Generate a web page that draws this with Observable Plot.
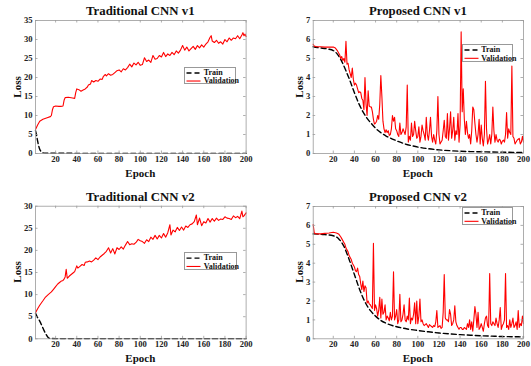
<!DOCTYPE html>
<html><head><meta charset="utf-8">
<script src="https://cdn.jsdelivr.net/npm/d3@7"></script>
<script src="https://cdn.jsdelivr.net/npm/@observablehq/plot@0.6"></script>
<style>
body{margin:0;background:#fff;}
#root{position:relative;width:531px;height:366px;overflow:hidden;font-family:"Liberation Serif","Times New Roman",serif;color:#111;}
.p{position:absolute;}
.p svg text{font-weight:bold;}
.title{position:absolute;font-weight:bold;font-size:12.8px;white-space:nowrap;line-height:1;transform:translate(-50%,0);}
.xl{position:absolute;font-weight:bold;font-size:11px;white-space:nowrap;line-height:1;transform:translate(-50%,-50%);}
.yl{position:absolute;font-weight:bold;font-size:11px;white-space:nowrap;line-height:1;transform:translate(-50%,-50%) rotate(-90deg);}
.legend{position:absolute;border:0.8px solid #999;background:#fff;box-sizing:border-box;}
.legend .t{position:absolute;font-weight:bold;font-size:8px;line-height:1;white-space:nowrap;transform:translate(0,-50%);}
.legend svg{position:absolute;left:0;top:0;overflow:visible;}
</style></head><body><div id="root"></div>
<script>
// ---------- data ----------
const epochTicks = [20,40,60,80,100,120,140,160,180,200];
const tradTicksV1 = [0,5,10,15,20,25,30,35];
const tradTicksV2 = [0,5,10,15,20,25,30];
const propTicks = [0,1,2,3,4,5,6,7];
const titles = ["Traditional CNN v1","Proposed CNN v1","Traditional CNN v2","Proposed CNN v2"];
const seriesNames = ["Train","Validation"];

const tradV1Train = [[1,6.0],[2,4.8],[3,3.3],[4,2.0],[5,1.1],[6,0.6],[7,0.3],[8,0.15],[10,0.07],[14,0.06],[30,0.05],[60,0.04],[100,0.04],[150,0.03],[200,0.03]];
const tradV1Val = [[1,6.3],[3,7.5],[5,8.5],[8,9.0],[12,9.4],[15,9.7],[16,10.0],[17,11.5],[18,12.3],[20,12.5],[23,12.4],[25,12.4],[27,12.5],[28,14.0],[29,14.7],[32,14.8],[36,14.6],[38,14.5],[39,16.0],[40,17.0],[42,16.8],[44,16.4],[46,16.7],[48,17.0],[50,17.5],[51,18.0],[53,18.3],[54,19.2],[56,18.8],[58,19.2],[60,19.0],[62,19.6],[64,19.5],[65,20.2],[67,20.8],[68,20.4],[70,21.0],[72,20.6],[74,20.8],[76,21.3],[78,21.8],[80,22.0],[82,21.5],[84,22.3],[86,22.0],[88,22.6],[90,23.5],[92,22.8],[94,23.8],[96,23.3],[98,24.0],[100,23.2],[102,23.4],[104,25.2],[106,24.2],[108,24.6],[110,24.0],[112,25.8],[114,24.8],[116,25.0],[118,25.8],[120,25.4],[122,26.6],[124,25.5],[126,26.2],[128,25.8],[130,26.6],[132,26.0],[134,27.0],[136,26.4],[138,27.2],[140,28.4],[142,27.2],[144,28.0],[146,27.0],[148,27.6],[150,28.2],[152,27.4],[154,28.4],[156,27.8],[158,28.6],[160,28.0],[162,28.8],[164,29.4],[166,30.6],[167,31.0],[168,29.6],[170,29.2],[172,29.8],[174,29.0],[176,29.4],[178,28.8],[180,30.0],[182,29.4],[184,30.4],[186,29.8],[188,30.4],[190,30.2],[192,31.0],[194,30.2],[196,31.2],[197,31.8],[198,31.0],[199,31.4],[200,30.8]];

const tradV2Train = [[1,5.8],[3,4.8],[5,4.0],[7,3.0],[9,1.9],[11,1.0],[13,0.3],[15,0.06],[20,0.05],[60,0.04],[100,0.04],[150,0.03],[200,0.03]];
const tradV2Val = [[1,5.9],[3,6.8],[5,7.6],[8,8.6],[10,9.3],[13,10.0],[16,10.6],[18,11.2],[20,11.8],[22,12.4],[24,12.8],[25,13.0],[27,13.2],[28,13.5],[29,14.0],[30,15.7],[31,13.7],[33,14.2],[35,14.6],[37,15.0],[38,15.2],[40,16.5],[41,16.0],[43,16.4],[45,16.8],[47,16.6],[48,17.3],[50,17.4],[52,17.6],[54,17.4],[56,17.8],[58,18.3],[60,17.9],[62,18.5],[64,18.9],[66,19.3],[68,19.8],[70,20.6],[72,19.4],[74,20.4],[76,19.2],[78,20.6],[80,20.2],[82,20.8],[84,20.3],[86,21.2],[88,22.0],[90,21.3],[92,21.5],[94,21.4],[96,21.8],[98,22.5],[100,22.2],[102,22.0],[104,21.6],[106,22.4],[108,22.0],[110,23.0],[112,22.5],[114,23.4],[116,22.6],[118,23.4],[120,22.8],[122,23.8],[124,23.0],[126,24.0],[128,25.8],[129,23.5],[131,24.6],[133,24.2],[135,25.2],[137,24.5],[139,25.3],[141,24.6],[143,25.5],[145,25.2],[147,25.8],[149,26.0],[151,26.5],[153,28.0],[154,25.8],[156,27.3],[158,25.6],[160,26.5],[162,26.2],[164,27.2],[166,26.4],[168,27.2],[170,26.6],[172,27.3],[174,26.8],[176,27.1],[178,27.0],[180,27.6],[182,27.3],[184,27.2],[186,27.0],[188,27.8],[190,27.4],[192,27.7],[194,27.2],[196,28.9],[197,27.6],[198,27.8],[200,28.5]];

const propV1Train = [[1,5.62],[5,5.58],[10,5.54],[15,5.5],[20,5.42],[24,5.22],[28,4.85],[32,4.35],[36,3.8],[40,3.2],[44,2.65],[48,2.2],[52,1.85],[56,1.58],[60,1.33],[65,1.1],[70,0.92],[76,0.76],[82,0.62],[88,0.5],[95,0.4],[102,0.32],[110,0.25],[120,0.19],[130,0.15],[140,0.12],[150,0.1],[160,0.09],[170,0.08],[180,0.07],[190,0.06],[200,0.05]];
const propV1Val = [[1,5.75],[2,5.65],[4,5.62],[8,5.62],[12,5.6],[16,5.6],[20,5.6],[22,5.55],[24,5.4],[26,5.2],[27,5.0],[28,5.1],[29,4.9],[30,5.0],[31,4.8],[32,5.9],[33,4.7],[34,4.75],[35,4.4],[36,4.2],[37,4.0],[38,4.5],[39,3.9],[40,3.6],[41,3.7],[42,3.6],[43,3.4],[44,3.2],[45,3.25],[46,3.2],[47,2.9],[48,2.8],[49,2.3],[50,4.0],[51,2.6],[52,2.0],[53,3.3],[54,2.5],[55,2.45],[56,2.45],[57,2.2],[58,1.8],[59,1.55],[60,1.6],[61,1.7],[62,2.0],[63,1.8],[64,2.6],[65,4.1],[66,3.0],[67,1.7],[68,1.3],[69,1.1],[70,1.25],[71,1.1],[72,1.2],[73,0.95],[74,1.0],[75,1.3],[76,2.0],[77,1.7],[78,1.9],[79,1.3],[80,1.2],[81,1.0],[82,0.9],[83,1.6],[84,1.0],[85,1.1],[86,1.3],[87,1.15],[88,1.0],[89,1.4],[90,3.6],[91,0.6],[92,0.9],[93,0.7],[94,1.6],[95,0.9],[96,1.0],[97,1.7],[98,1.2],[99,0.8],[100,0.9],[101,1.4],[102,0.6],[103,0.9],[104,1.5],[105,1.2],[106,1.0],[107,0.7],[108,1.9],[109,1.0],[110,0.7],[111,1.2],[112,1.9],[113,0.9],[114,0.6],[115,1.0],[116,0.7],[117,0.5],[118,1.2],[119,3.0],[120,1.0],[121,0.5],[122,0.6],[123,0.7],[124,1.2],[125,1.75],[126,0.9],[127,0.8],[128,2.1],[129,0.7],[130,1.3],[131,2.2],[132,0.8],[133,1.2],[134,1.9],[135,0.7],[136,1.2],[137,1.0],[138,2.1],[139,0.6],[140,1.5],[141,6.4],[142,2.2],[143,3.4],[144,1.8],[145,1.0],[146,1.7],[147,1.1],[148,0.8],[149,1.0],[150,0.5],[151,1.2],[152,2.45],[153,2.3],[154,1.6],[155,1.0],[156,0.6],[157,1.0],[158,1.8],[159,0.5],[160,1.5],[161,0.8],[162,0.4],[163,1.0],[164,3.8],[165,1.3],[166,0.5],[167,0.7],[168,1.0],[169,0.5],[170,1.0],[171,2.45],[172,1.2],[173,0.6],[174,1.0],[175,0.7],[176,0.6],[177,0.75],[178,0.7],[179,0.5],[180,0.65],[181,0.7],[182,0.6],[183,1.0],[184,2.15],[185,0.8],[186,1.3],[187,1.1],[188,1.0],[189,4.6],[190,0.9],[191,0.8],[192,0.5],[193,0.6],[194,0.7],[195,0.75],[196,0.8],[197,0.5],[198,0.6],[199,0.9],[200,0.6]];

const propV2Train = [[1,5.55],[10,5.52],[20,5.45],[25,5.3],[30,4.9],[35,4.2],[40,3.4],[45,2.6],[50,1.95],[55,1.5],[60,1.2],[65,0.97],[70,0.82],[80,0.64],[90,0.52],[100,0.44],[110,0.37],[120,0.31],[130,0.26],[140,0.22],[150,0.19],[160,0.16],[170,0.14],[180,0.12],[190,0.11],[200,0.1]];
const propV2Val = [[1,6.05],[2,5.6],[4,5.55],[8,5.55],[12,5.58],[16,5.6],[20,5.64],[23,5.6],[25,5.55],[27,5.4],[28,5.3],[30,5.1],[31,5.0],[32,4.8],[34,4.6],[35,4.4],[36,4.3],[37,4.2],[38,4.0],[39,3.9],[40,3.8],[41,3.6],[42,3.55],[43,3.74],[44,3.4],[45,3.3],[46,2.9],[47,2.6],[48,3.06],[49,2.5],[50,2.8],[51,2.7],[52,1.9],[53,2.0],[54,1.85],[55,1.8],[56,1.7],[57,1.6],[58,5.05],[59,1.5],[60,1.8],[61,1.6],[62,1.2],[63,1.5],[64,2.2],[65,1.1],[66,2.1],[67,1.3],[68,1.4],[69,1.8],[70,1.0],[71,1.2],[72,1.1],[73,0.95],[74,1.4],[75,1.0],[76,1.2],[77,3.55],[78,1.0],[79,1.2],[80,1.55],[81,0.8],[82,1.0],[83,2.35],[84,0.9],[85,1.0],[86,1.3],[87,1.8],[88,1.0],[89,0.9],[90,1.2],[91,1.0],[92,2.15],[93,0.8],[94,1.1],[95,1.0],[96,1.3],[97,1.9],[98,0.8],[99,2.0],[100,0.8],[101,1.2],[102,2.1],[103,0.9],[104,1.0],[105,0.8],[106,0.7],[107,0.75],[108,0.8],[109,0.7],[110,0.6],[111,0.75],[112,0.7],[113,0.65],[114,0.6],[115,0.7],[116,0.65],[117,0.9],[118,1.5],[119,0.6],[120,0.65],[121,0.7],[122,0.55],[123,0.6],[124,1.4],[125,3.4],[126,1.1],[127,1.0],[128,1.0],[129,0.9],[130,1.55],[131,1.3],[132,0.7],[133,0.8],[134,1.0],[135,1.75],[136,0.9],[137,0.7],[138,0.6],[139,0.5],[140,0.6],[141,0.6],[142,0.5],[143,0.5],[144,0.6],[145,0.55],[146,0.5],[147,0.8],[148,0.6],[149,1.0],[150,0.5],[151,0.9],[152,0.4],[153,1.0],[154,1.7],[155,1.3],[156,0.6],[157,1.4],[158,0.5],[159,0.6],[160,0.8],[161,0.6],[162,0.4],[163,0.8],[164,1.1],[165,1.2],[166,0.7],[167,0.6],[168,3.45],[169,0.8],[170,0.7],[171,0.9],[172,0.8],[173,0.7],[174,1.1],[175,0.8],[176,0.6],[177,1.0],[178,1.65],[179,0.5],[180,0.7],[181,0.8],[182,1.0],[183,3.45],[184,0.6],[185,0.7],[186,0.5],[187,1.0],[188,0.6],[189,0.8],[190,1.1],[191,0.6],[192,0.7],[193,0.9],[194,0.5],[195,1.5],[196,0.6],[197,0.8],[198,0.7],[199,1.2],[200,0.8]];

// ---------- layout ----------
const root = document.getElementById("root");
const FONT = '"Liberation Serif","Times New Roman",serif';
const AX = "#9a9a9a";

const panels = [
  {left:0,  top:0,   w:265, h:183, ml:35,   mr:19.4, mt:20,   mb:30,   yMax:35, yTicks:tradTicksV1, train:tradV1Train, val:tradV1Val, title:titles[0],
   legend:{x:184.3,y:66.7,w:52,h:17.6}},
  {left:265,top:0,   w:266, h:183, ml:47.7, mr:8,    mt:20,   mb:30,   yMax:7,  yTicks:propTicks,   train:propV1Train, val:propV1Val, title:titles[1],
   legend:{x:461.7,y:44.3,w:51.6,h:18}},
  {left:0,  top:183, w:265, h:183, ml:35,   mr:19.4, mt:22.7, mb:27.7, yMax:30, yTicks:tradTicksV2, train:tradV2Train, val:tradV2Val, title:titles[2],
   legend:{x:184.3,y:252.3,w:52.4,h:18.2}},
  {left:265,top:183, w:266, h:183, ml:47.7, mr:8,    mt:23,   mb:27.7, yMax:7,  yTicks:propTicks,   train:propV2Train, val:propV2Val, title:titles[3],
   legend:{x:461.7,y:207.3,w:51.6,h:18}}
];

for (const p of panels) {
  const fh = p.h - p.mt - p.mb, fw = p.w - p.ml - p.mr;
  const chart = Plot.plot({
    width: p.w, height: p.h,
    marginLeft: p.ml, marginRight: p.mr, marginTop: p.mt, marginBottom: p.mb,
    style: {fontFamily: FONT, fontSize: "8.6px", color: "#222", background: "transparent", overflow: "visible"},
    x: {domain: [1, 200]},
    y: {domain: [0, p.yMax]},
    marks: [
      Plot.line(p.train, {x: d => d[0], y: d => d[1], stroke: "#000", strokeWidth: 1.4, strokeDasharray: "5,3", curve: "monotone-x"}),
      Plot.line(p.val, {x: d => d[0], y: d => d[1], stroke: "#ff0000", strokeWidth: 1.1}),
      Plot.frame({stroke: AX, strokeWidth: 0.8}),
      Plot.tickX(epochTicks, {x: d => d, insetTop: fh - 2.5, stroke: AX, strokeWidth: 0.8}),
      Plot.tickX(epochTicks, {x: d => d, insetBottom: fh - 2.5, stroke: AX, strokeWidth: 0.8}),
      Plot.tickY(p.yTicks, {y: d => d, insetRight: fw - 2.5, stroke: AX, strokeWidth: 0.8}),
      Plot.tickY(p.yTicks, {y: d => d, insetLeft: fw - 2.5, stroke: AX, strokeWidth: 0.8}),
      Plot.axisX(epochTicks, {tickSize: 0, tickPadding: 2.5, label: null, fill: "#222"}),
      Plot.axisY(p.yTicks, {tickSize: 0, tickPadding: 3, label: null, fill: "#222"})
    ]
  });
  const holder = document.createElement("div");
  holder.className = "p";
  holder.style.left = p.left + "px";
  holder.style.top = p.top + "px";
  holder.appendChild(chart);
  root.appendChild(holder);

  const cx = p.left + p.ml + fw / 2;
  const t = document.createElement("div");
  t.className = "title"; t.textContent = p.title;
  t.style.left = cx + "px"; t.style.top = (p.top + p.mt - 15) + "px";
  root.appendChild(t);

  const xl = document.createElement("div");
  xl.className = "xl"; xl.textContent = "Epoch";
  xl.style.left = cx + "px"; xl.style.top = (p.top + p.h - p.mb + 19.5) + "px";
  root.appendChild(xl);

  const yl = document.createElement("div");
  yl.className = "yl"; yl.textContent = "Loss";
  yl.style.left = (p.left + p.ml - (p.yMax > 9 ? 18 : 14)) + "px";
  yl.style.top = (p.top + p.mt + fh / 2) + "px";
  root.appendChild(yl);

  const L = p.legend;
  const lg = document.createElement("div");
  lg.className = "legend";
  lg.style.left = L.x + "px"; lg.style.top = L.y + "px";
  lg.style.width = L.w + "px"; lg.style.height = L.h + "px";
  const r1 = L.h * 0.28, r2 = L.h * 0.74;
  lg.innerHTML =
    `<svg width="${L.w}" height="${L.h}">
      <line x1="1.5" x2="15.5" y1="${r1}" y2="${r1}" stroke="#000" stroke-width="1.4" stroke-dasharray="5,3"/>
      <line x1="1.5" x2="15.5" y1="${r2}" y2="${r2}" stroke="#ff0000" stroke-width="1.1"/>
    </svg>
    <div class="t" style="left:18.5px;top:${r1}px">${seriesNames[0]}</div>
    <div class="t" style="left:18.5px;top:${r2}px">${seriesNames[1]}</div>`;
  root.appendChild(lg);
}
</script>
</body></html>
